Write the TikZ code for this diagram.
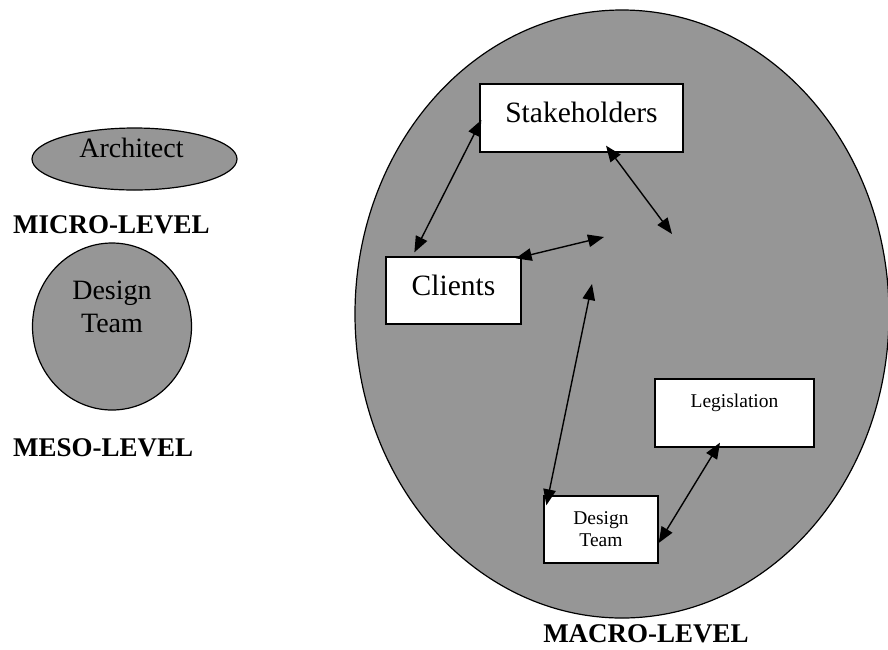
\documentclass[tikz,border=0pt]{standalone}
\usepackage{fontspec}
\setmainfont{Liberation Serif}
\usetikzlibrary{arrows.meta, shapes.geometric, positioning}
\definecolor{shade}{RGB}{150,150,150}
\tikzset{
  blob/.style={ellipse, draw, fill=shade, line width=1.2pt, inner sep=0pt},
  card/.style={rectangle, draw, fill=white, line width=1.3pt, inner sep=0pt},
  big/.style={font=\fontsize{29.5}{33}\selectfont, inner sep=0pt},
  mid/.style={font=\fontsize{28}{33}\selectfont, inner sep=0pt},
  small/.style={font=\fontsize{19.5}{22}\selectfont, inner sep=0pt},
  lvl/.style={font=\fontsize{27}{30}\selectfont\bfseries, inner sep=0pt},
  link/.style={{Triangle[length=16pt,width=12.5pt]}-{Triangle[length=16pt,width=12.5pt]}, line width=1.4pt}
}
\begin{document}
\begin{tikzpicture}[x=1pt, y=-1pt]
\useasboundingbox (0,0) rectangle (888,649);
% left side
\node[blob, minimum width=205pt, minimum height=62pt,
  label={[mid, anchor=base, yshift=-30pt, xshift=-3pt]north:Architect}] (arch) at (134.5,159) {};
\node[lvl, anchor=base west] (microlbl) at (13,233) {MICRO-LEVEL};
\node[blob, minimum width=159pt, minimum height=167pt,
  label={[mid, align=center, anchor=north, yshift=-38pt]north:Design\\Team}] (meso) at (112,326.5) {};
\node[lvl, anchor=base west] (mesolbl) at (13,456) {MESO-LEVEL};
% macro level
\node[blob, minimum width=534pt, minimum height=608pt] (macro) at (622,314) {};
\node[lvl, anchor=base] (macrolbl) at (646,642) {MACRO-LEVEL};
\node[card, minimum width=203pt, minimum height=68pt,
  label={[big, anchor=base, yshift=-39pt]north:Stakeholders}] (stake) at (581.5,118) {};
\node[card, minimum width=135pt, minimum height=67pt,
  label={[big, anchor=base, yshift=-39pt]north:Clients}] (clients) at (453.5,290.5) {};
\node[card, minimum width=159pt, minimum height=68pt,
  label={[small, anchor=base, yshift=-29pt]north:Legislation}] (law) at (734.5,413) {};
\node[card, minimum width=114pt, minimum height=67pt,
  label={[small, align=center, anchor=north, yshift=-16pt]north:Design\\Team}] (team) at (601,529.5) {};
% loose arrow ends
\coordinate (gapR) at (672,234);
\coordinate (gapL) at (604,237);
\coordinate (gapB) at (592,284);
\draw[link] ([shift={(2,2)}]stake.west) -- ([shift={(29,-4)}]clients.north west);
\draw[link] ([shift={(24.5,-7)}]stake.south) -- (gapR);
\draw[link] ([shift={(-6,2)}]clients.north east) -- (gapL);
\draw[link] (gapB) -- ([shift={(3,10)}]team.north west);
\draw[link] ([shift={(0,13.5)}]team.east) -- ([shift={(-14.5,-5)}]law.south);
\end{tikzpicture}
\end{document}
